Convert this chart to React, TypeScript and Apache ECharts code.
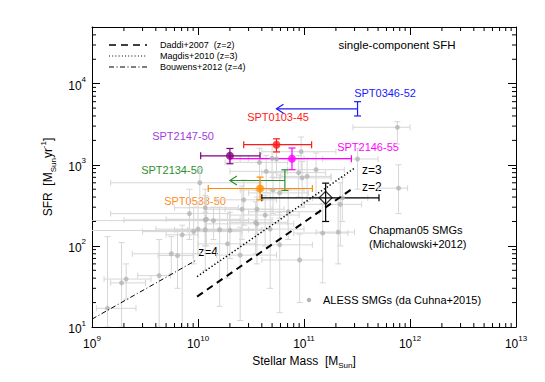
import React, { useEffect, useRef } from 'react';
import * as echarts from 'echarts';

const FONT = '"Liberation Sans", Arial, Helvetica, sans-serif';

// Axis ranges and tick exponents
const xRange = [1e9, 1e13];
const yRange = [10, 5e4];
const xTickExps = [9, 10, 11, 12, 13];
const yTickExps = [1, 2, 3, 4];

// ALESS SMGs (da Cunha+2015)
const alessMass = [1.4e9, 1.9e9, 2.1e9, 4.3e9, 5.6e9, 6.4e9, 7.1e9, 9.1e9, 1.0e10, 1.17e10, 1.17e10, 1.6e10, 1.9e10, 2.5e10, 3.6e10, 4.8e10, 5.9e10, 1.5e11, 2.1e11, 7.6e11, 3.2e11, 7.8e11, 2.3e11, 2.2e11, 9.6e10, 9.4e10, 1.3e11, 8.3e9, 1.2e10, 1.17e10, 2.6e10, 2.7e10, 3.5e10, 3.6e10, 4.3e10, 7.1e10, 9.1e10, 4.4e10, 5.0e10, 8.9e10, 1.07e11, 5.1e10, 5.9e10, 3.8e10, 5.5e10, 1.04e10, 1.4e10, 2.0e10];
const alessMassLo = [1.1e9, 1.5e9, 1.3e9, 2.7e9, 2.4e9, 4.2e9, 5.0e9, 3.0e9, 4.0e9, 6.0e9, 2.0e9, 8.0e9, 1.0e10, 1.5e10, 1.2e10, 2.0e10, 2.5e10, 8.0e10, 1.3e11, 2.9e11, 1.5e11, 5.0e11, 1.2e11, 1.0e11, 5.0e10, 4.0e10, 7.0e10, 1.5e9, 5.0e9, 6.0e9, 1.2e10, 1.5e10, 2.0e10, 1.8e10, 2.0e10, 3.0e10, 4.0e10, 2.0e10, 3.0e10, 4.0e10, 6.0e10, 2.5e10, 3.0e10, 1.8e10, 2.5e10, 1.5e9, 8.0e8, 9.0e8];
const alessMassHi = [2.6e9, 3.2e9, 3.6e9, 5.5e9, 1.0e10, 9.0e9, 1.0e10, 2.6e10, 2.0e10, 3.0e10, 5.0e10, 4.0e10, 3.5e10, 5.5e10, 8.0e10, 1.0e11, 1.2e11, 2.6e11, 3.0e11, 1.0e12, 5.0e11, 9.5e11, 4.0e11, 3.5e11, 1.8e11, 2.0e11, 2.4e11, 2.0e10, 2.5e10, 2.4e10, 5.0e10, 5.5e10, 7.0e10, 6.5e10, 9.0e10, 1.4e11, 1.5e11, 7.0e10, 8.0e10, 1.6e11, 1.8e11, 1.0e11, 1.1e11, 7.0e10, 1.0e11, 3.8e10, 3.0e10, 4.0e10];
const alessSfr = [17, 35, 39, 43, 80, 76, 137, 150, 161, 158, 209, 158, 106, 77, 187, 161, 103, 144, 148, 2900, 1180, 515, 390, 325, 690, 1450, 870, 250, 213, 295, 283, 370, 195, 283, 240, 264, 67, 830, 1200, 800, 720, 490, 450, 1070, 1180, 600, 205, 155];
const alessSfrLo = [10, 10, 22, 10, 45, 30, 10, 60, 80, 50, 100, 18, 40, 12, 60, 30, 15, 35, 60, 1800, 500, 250, 200, 100, 300, 800, 400, 120, 100, 150, 120, 180, 80, 140, 100, 120, 20, 450, 700, 400, 350, 250, 220, 600, 700, 350, 120, 70];
const alessSfrHi = [130, 110, 60, 120, 130, 150, 180, 300, 350, 260, 420, 300, 250, 170, 400, 500, 260, 330, 380, 3400, 1600, 1000, 700, 600, 1100, 2200, 1400, 500, 400, 500, 550, 650, 350, 480, 420, 500, 140, 1300, 1800, 1300, 1200, 800, 750, 1600, 1700, 900, 300, 260];

// SPT detections
const detNames = ['SPT0103-45', 'SPT2147-50', 'SPT2146-55', 'SPT0538-50'];
const detMass = [5.5e10, 2.0e10, 7.7e10, 3.85e10];
const detMassLo = [2.7e10, 1.06e10, 2.0e10, 1.25e10];
const detMassHi = [1.18e11, 3.85e10, 2.8e11, 1.2e11];
const detSfr = [1770, 1290, 1190, 510];
const detSfrLo = [1440, 1030, 870, 370];
const detSfrHi = [2090, 1590, 1610, 705];
const detColors = ['#ff1a1a', '#800080', '#ff00ff', '#ff8c00'];
const detLabelColors = ['#ff1a1a', '#a040e0', '#ff00ff', '#ff8c1a'];
const detLabelPos = [[278, 117], [183, 136], [368, 147], [195, 201]];

// SPT mass upper limits
const limNames = ['SPT0346-52', 'SPT2134-50'];
const limMass = [3.2e11, 6.6e10];
const limMassArrow = [5.5e10, 2.0e10];
const limSfr = [4900, 640];
const limSfrLo = [4000, 482];
const limSfrHi = [6000, 867];
const limColors = ['#1a1aff', '#2f8f2f'];
const limLabelPos = [[385, 93], [172, 170]];

// Chapman05 SMGs (Michalowski+2012)
const chapMass = [1.6e11];
const chapMassLo = [4.0e10];
const chapMassHi = [5.1e11];
const chapSfr = [392];
const chapSfrLo = [200];
const chapSfrHi = [594];

// Main-sequence relations
const daddiMass = [9.8e9, 3.0e11];
const daddiSfr = [23.7, 530];
const magdisMass = [9.8e9, 3.0e11];
const magdisSfr = [41.8, 910];
const bouwensMass = [1.0e9, 9.7e9];
const bouwensSfr = [12.5, 67];

const xMinor: number[] = [];
for (const d of [1e9, 1e10, 1e11, 1e12]) for (let k = 2; k <= 9; k++) xMinor.push(k * d);
const yMinor: number[] = [];
for (const d of [10, 100, 1000, 10000]) for (let k = 2; k <= 9; k++) if (k * d < yRange[1]) yMinor.push(k * d);

function seg(x1: number, y1: number, x2: number, y2: number, style: any) {
  return { type: 'line', shape: { x1, y1, x2, y2 }, style };
}

function errRender(color: string, cap: number, lw: number) {
  return (params: any, api: any) => {
    const x = api.value(0), y = api.value(1);
    const pL = api.coord([api.value(2), y]);
    const pR = api.coord([api.value(3), y]);
    const pB = api.coord([x, api.value(4)]);
    const pT = api.coord([x, api.value(5)]);
    const st = { stroke: color, lineWidth: lw, fill: null };
    return {
      type: 'group',
      children: [
        seg(pL[0], pL[1], pR[0], pR[1], st),
        seg(pL[0], pL[1] - cap, pL[0], pL[1] + cap, st),
        seg(pR[0], pR[1] - cap, pR[0], pR[1] + cap, st),
        seg(pB[0], pB[1], pT[0], pT[1], st),
        seg(pB[0] - cap, pB[1], pB[0] + cap, pB[1], st),
        seg(pT[0] - cap, pT[1], pT[0] + cap, pT[1], st),
      ],
    };
  };
}

function limRender(color: string) {
  return (params: any, api: any) => {
    const x = api.value(0), y = api.value(1);
    const p = api.coord([x, y]);
    const a = api.coord([api.value(2), y]);
    const pB = api.coord([x, api.value(3)]);
    const pT = api.coord([x, api.value(4)]);
    const st = { stroke: color, lineWidth: 1.2, fill: null };
    const cap = 3.5;
    return {
      type: 'group',
      children: [
        seg(a[0], a[1], p[0], p[1], st),
        { type: 'polyline', shape: { points: [[a[0] + 7, a[1] - 4.5], [a[0], a[1]], [a[0] + 7, a[1] + 4.5]] }, style: st },
        seg(pB[0], pB[1], pT[0], pT[1], st),
        seg(pB[0] - cap, pB[1], pB[0] + cap, pB[1], st),
        seg(pT[0] - cap, pT[1], pT[0] + cap, pT[1], st),
      ],
    };
  };
}

function powLabel(exps: number[]) {
  return (v: number) => {
    const l = Math.log10(v);
    const r = Math.round(l);
    if (Math.abs(l - r) > 1e-6 || exps.indexOf(r) < 0) return '';
    return `{b|10}{e|${r}}`;
  };
}

const labelRich = {
  b: { fontSize: 12, fontFamily: FONT, color: '#000', lineHeight: 16, verticalAlign: 'bottom' },
  e: { fontSize: 8, fontFamily: FONT, color: '#000', lineHeight: 10, verticalAlign: 'top' },
};

export default function App() {
  const ref = useRef<HTMLDivElement>(null);
  useEffect(() => {
    if (!ref.current) return;
    const chart = echarts.init(ref.current, null, { renderer: 'svg' });

    const axisCommon = {
      type: 'log',
      logBase: 10,
      axisLine: { show: true, lineStyle: { color: '#000', width: 1 } },
      axisTick: { show: true, inside: true, length: 8, lineStyle: { color: '#000', width: 1 } },
      splitLine: { show: false },
      minorTick: { show: false },
      minorSplitLine: { show: false },
    };

    const series: any[] = [];
    // minor ticks
    series.push({
      type: 'custom', silent: true, z: 10,
      data: xMinor.map((v) => [v, yRange[0]]),
      encode: { x: 0, y: 1 },
      renderItem: (params: any, api: any) => {
        const cs = params.coordSys;
        const px = api.coord([api.value(0), yRange[0]])[0];
        const st = { stroke: '#000', lineWidth: 1 };
        const b = cs.y + cs.height, t = cs.y;
        return { type: 'group', children: [seg(px, b, px, b - 4, st), seg(px, t, px, t + 4, st)] };
      },
    });
    series.push({
      type: 'custom', silent: true, z: 10,
      data: yMinor.map((v) => [xRange[0], v]),
      encode: { x: 0, y: 1 },
      renderItem: (params: any, api: any) => {
        const cs = params.coordSys;
        const py = api.coord([xRange[0], api.value(1)])[1];
        const st = { stroke: '#000', lineWidth: 1 };
        const l = cs.x, r = cs.x + cs.width;
        return { type: 'group', children: [seg(l, py, l + 4, py, st), seg(r, py, r - 4, py, st)] };
      },
    });

    // ALESS error bars + points
    series.push({
      type: 'custom', name: 'ALESS SMGs errors', clip: true, silent: true,
      data: alessMass.map((m, i) => [m, alessSfr[i], alessMassLo[i], alessMassHi[i], alessSfrLo[i], alessSfrHi[i]]),
      encode: { x: 0, y: 1 },
      renderItem: errRender('#d6d6d6', 3, 1),
    });
    series.push({
      type: 'scatter', name: 'ALESS SMGs (da Cuhna+2015)', symbol: 'circle', symbolSize: 5,
      itemStyle: { color: '#b4b4b4' },
      data: alessMass.map((m, i) => [m, alessSfr[i]]),
    });

    // relations
    const lineS = (name: string, xs: number[], ys: number[], type: any, width: number) => ({
      type: 'line', name, symbol: 'none', silent: true,
      lineStyle: { color: '#000', width, type },
      data: xs.map((x, i) => [x, ys[i]]),
    });
    series.push(lineS('Daddi+2007 (z=2)', daddiMass, daddiSfr, [7, 5], 2));
    series.push(lineS('Magdis+2010 (z=3)', magdisMass, magdisSfr, [1.3, 2.2], 1.5));
    series.push(lineS('Bouwens+2012 (z=4)', bouwensMass, bouwensSfr, [5, 2.5, 1, 2.5], 1));

    // Chapman
    series.push({
      type: 'custom', clip: true, silent: true,
      data: chapMass.map((m, i) => [m, chapSfr[i], chapMassLo[i], chapMassHi[i], chapSfrLo[i], chapSfrHi[i]]),
      encode: { x: 0, y: 1 },
      renderItem: errRender('#000', 3.5, 1.2),
    });
    series.push({
      type: 'scatter', name: 'Chapman05 SMGs', symbol: 'diamond', symbolSize: 13,
      itemStyle: { color: 'rgba(0,0,0,0)', borderColor: '#000', borderWidth: 1.2 },
      data: chapMass.map((m, i) => [m, chapSfr[i]]),
    });

    // upper limits
    limNames.forEach((n, i) => {
      series.push({
        type: 'custom', name: n, clip: true, silent: true,
        data: [[limMass[i], limSfr[i], limMassArrow[i], limSfrLo[i], limSfrHi[i]]],
        encode: { x: 0, y: 1 },
        renderItem: limRender(limColors[i]),
      });
    });

    // detections
    detNames.forEach((n, i) => {
      series.push({
        type: 'custom', name: n + ' err', clip: true, silent: true,
        data: [[detMass[i], detSfr[i], detMassLo[i], detMassHi[i], detSfrLo[i], detSfrHi[i]]],
        encode: { x: 0, y: 1 },
        renderItem: errRender(detColors[i], 3.5, 1.2),
      });
      series.push({
        type: 'scatter', name: n, symbol: 'circle', symbolSize: 8,
        itemStyle: { color: detColors[i] },
        data: [[detMass[i], detSfr[i]]],
      });
    });

    const txt = (x: number, y: number, text: string, color: string, size: number, align = 'center') => ({
      type: 'text', x, y, silent: true,
      style: { text, fill: color, fontSize: size, fontFamily: FONT, align, verticalAlign: 'middle' },
    });

    const graphic: any[] = [];
    // legend for relations
    const legY = [45, 56, 67];
    const legText = ['Daddi+2007  (z=2)', 'Magdis+2010 (z=3)', 'Bouwens+2012 (z=4)'];
    const legDash = [[7, 5], [1, 2.2], [5, 2.5, 1, 2.5]];
    const legW = [1.3, 1.2, 1];
    legY.forEach((y, i) => {
      graphic.push({ type: 'line', silent: true, shape: { x1: 109, y1: y, x2: 147, y2: y }, style: { stroke: '#000', lineWidth: legW[i], lineDash: legDash[i] } });
      graphic.push(txt(160, y, legText[i], '#000', 9, 'left'));
    });
    graphic.push(txt(397, 45, 'single-component SFH', '#000', 11.5));
    detNames.forEach((n, i) => graphic.push(txt(detLabelPos[i][0], detLabelPos[i][1], n, detLabelColors[i], 11)));
    limNames.forEach((n, i) => graphic.push(txt(limLabelPos[i][0], limLabelPos[i][1], n, limColors[i], 11)));
    graphic.push(txt(208, 252, 'z=4', '#000', 12));
    graphic.push(txt(362, 170, 'z=3', '#000', 12, 'left'));
    graphic.push(txt(362, 187, 'z=2', '#000', 12, 'left'));
    graphic.push(txt(369, 230, 'Chapman05 SMGs', '#000', 11, 'left'));
    graphic.push(txt(369, 244, '(Michalowski+2012)', '#000', 11, 'left'));
    graphic.push({ type: 'circle', silent: true, shape: { cx: 309, cy: 300, r: 2.2 }, style: { fill: '#b4b4b4' } });
    graphic.push(txt(323, 300, 'ALESS SMGs (da Cuhna+2015)', '#000', 11, 'left'));

    chart.setOption({
      animation: false,
      backgroundColor: '#fff',
      grid: { left: 92, right: 29, top: 27, bottom: 55, containLabel: false, outerBoundsMode: 'none' },
      xAxis: [
        {
          ...axisCommon, position: 'bottom', min: xRange[0], max: xRange[1],
          name: 'Stellar Mass  [M{sub|Sun}]', nameLocation: 'middle', nameGap: 27,
          nameTextStyle: {
            fontSize: 12, fontFamily: FONT, color: '#000',
            rich: { sub: { fontSize: 8, fontFamily: FONT, color: '#000', verticalAlign: 'bottom', lineHeight: 8, padding: [0, 0, -3, 0] } },
          },
          axisLabel: { show: true, margin: 7, formatter: powLabel(xTickExps), rich: labelRich },
        },
        { ...axisCommon, position: 'top', min: xRange[0], max: xRange[1], axisLabel: { show: false } },
      ],
      yAxis: [
        {
          ...axisCommon, position: 'left', min: yRange[0], max: yRange[1],
          name: 'SFR  [M{sub|Sun}yr{sup|-1}]', nameLocation: 'middle', nameGap: 33,
          nameTextStyle: {
            fontSize: 12, fontFamily: FONT, color: '#000',
            rich: {
              sub: { fontSize: 8, fontFamily: FONT, color: '#000', verticalAlign: 'bottom', lineHeight: 8, padding: [0, 0, -3, 0] },
              sup: { fontSize: 8, fontFamily: FONT, color: '#000', verticalAlign: 'top', lineHeight: 8, padding: [-3, 0, 0, 0] },
            },
          },
          axisLabel: { show: true, margin: 6, formatter: powLabel(yTickExps), rich: labelRich },
        },
        { ...axisCommon, position: 'right', min: yRange[0], max: yRange[1], axisLabel: { show: false } },
      ],
      series,
      graphic,
    });
    return () => chart.dispose();
  }, []);
  return <div ref={ref} style={{ position: 'fixed', left: 0, top: 0, width: 545, height: 382, background: '#fff' }} />;
}
